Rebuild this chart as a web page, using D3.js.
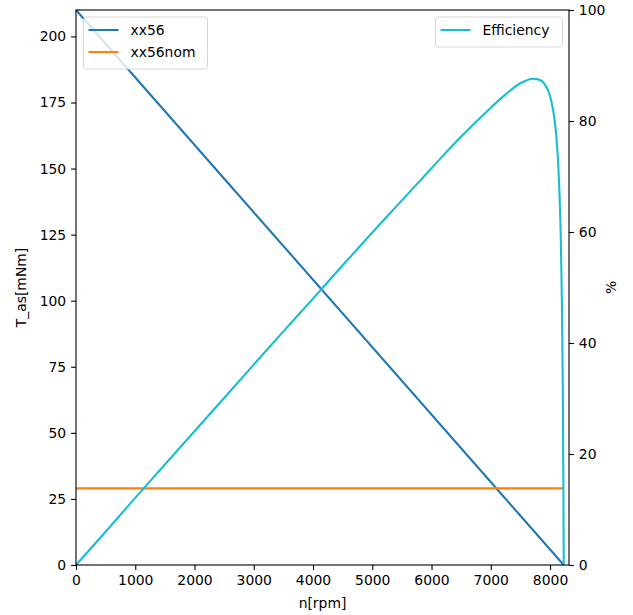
<!DOCTYPE html>
<html>
<head>
<meta charset="utf-8">
<script src="https://cdn.jsdelivr.net/npm/d3@7"></script>
<style>
  body { margin: 0; background: #fff; }
  text { font-family: "DejaVu Sans", sans-serif; }
</style>
</head>
<body>
<div id="chart"></div>
<script>
// speed axis values (rpm)
const torqueSpeed = [0, 8231];
const torque = [210, 0];              // xx56 torque line, mNm
const nominalSpeed = [0, 8231];
const nominalTorque = [29, 29];       // xx56nom

// efficiency curve
const effSpeed = [0, 500, 1000, 1500, 2000, 2500, 3000, 3500, 4000, 4500, 5000, 5500, 6000,
    6500, 7000, 7250, 7500, 7600, 7700, 7800, 7900, 8000, 8050, 8100, 8150, 8180, 8200, 8215, 8225, 8231];
const efficiency = [0, 6.0, 12.1, 18.1, 24.1, 30.1, 36.1, 42.1, 48.0, 54.0, 59.9, 65.7, 71.5,
    77.2, 82.4, 84.8, 86.8, 87.3, 87.6, 87.5, 86.8, 84.5, 82.1, 78.0, 69.6, 59.6, 47.5, 32.0, 15.0, 0];

const xTicks = [0, 1000, 2000, 3000, 4000, 5000, 6000, 7000, 8000];
const leftTicks = [0, 25, 50, 75, 100, 125, 150, 175, 200];
const rightTicks = [0, 20, 40, 60, 80, 100];

const W = 633, H = 615;
const margin = { top: 10, right: 64, bottom: 50, left: 76 };
const width = W - margin.left - margin.right;
const height = H - margin.top - margin.bottom;

const svg = d3.select("#chart")
    .append("svg")
    .attr("width", W)
    .attr("height", H)
    .append("g")
    .attr("transform", `translate(${margin.left},${margin.top})`);

const x = d3.scaleLinear().domain([0, 8320]).range([0, width]);
const yL = d3.scaleLinear().domain([0, 210]).range([height, 0]);
const yR = d3.scaleLinear().domain([0, 100]).range([height, 0]);

const fs = "13.9px";

// lines
const line = (xs, ys, yScale) => d3.line()
    .x((d, i) => x(xs[i]))
    .y((d, i) => yScale(ys[i]))(ys);

svg.append("path")
    .attr("d", line(torqueSpeed, torque, yL))
    .attr("fill", "none").attr("stroke", "#1f77b4").attr("stroke-width", 2.08);

svg.append("path")
    .attr("d", line(nominalSpeed, nominalTorque, yL))
    .attr("fill", "none").attr("stroke", "#ff7f0e").attr("stroke-width", 2.08);

svg.append("path")
    .attr("d", d3.line().curve(d3.curveMonotoneX)
        .x((d, i) => x(effSpeed[i]))
        .y(d => yR(d))(efficiency))
    .attr("fill", "none").attr("stroke", "#17becf").attr("stroke-width", 2.08);

// axes
const styleAxis = g => {
    g.select(".domain").remove();
    g.selectAll(".tick line").attr("stroke", "#000").attr("stroke-width", 1.1);
    g.selectAll(".tick text").style("font-size", fs).attr("fill", "#000");
};

svg.append("g")
    .attr("transform", `translate(0,${height})`)
    .call(d3.axisBottom(x).tickValues(xTicks).tickSize(4.9).tickPadding(4.9).tickFormat(d3.format("d")))
    .call(styleAxis);

svg.append("g")
    .call(d3.axisLeft(yL).tickValues(leftTicks).tickSize(4.9).tickPadding(4.9))
    .call(styleAxis);

svg.append("g")
    .attr("transform", `translate(${width},0)`)
    .call(d3.axisRight(yR).tickValues(rightTicks).tickSize(4.9).tickPadding(4.9))
    .call(styleAxis);

// frame
svg.append("rect")
    .attr("width", width).attr("height", height)
    .attr("fill", "none").attr("stroke", "#000").attr("stroke-width", 1.1);

// axis labels
svg.append("text")
    .attr("x", width / 2).attr("y", height + 43)
    .attr("text-anchor", "middle").style("font-size", fs)
    .text("n[rpm]");

svg.append("text")
    .attr("transform", `translate(${-50},${height / 2}) rotate(-90)`)
    .attr("text-anchor", "middle").style("font-size", fs)
    .text("T_as[mNm]");

svg.append("text")
    .attr("transform", `translate(${width + 47},${height / 2}) rotate(-90)`)
    .attr("text-anchor", "middle").style("font-size", fs)
    .text("%");

// legends
function legend(x0, y0, w, items) {
    const g = svg.append("g").attr("transform", `translate(${x0},${y0})`);
    g.append("rect")
        .attr("width", w).attr("height", 8 + items.length * 22)
        .attr("rx", 3)
        .attr("fill", "#fff").attr("fill-opacity", 0.8)
        .attr("stroke", "#d6d6d6").attr("stroke-width", 1);
    items.forEach((it, i) => {
        const yy = 13 + i * 22;
        g.append("line")
            .attr("x1", 5).attr("x2", 35).attr("y1", yy).attr("y2", yy)
            .attr("stroke", it.color).attr("stroke-width", 2.08);
        g.append("text")
            .attr("x", 47).attr("y", yy).attr("dy", "0.35em")
            .style("font-size", fs)
            .text(it.label);
    });
}

legend(7.5, 7, 124, [
    { label: "xx56", color: "#1f77b4" },
    { label: "xx56nom", color: "#ff7f0e" }
]);
legend(359.5, 7, 127, [
    { label: "Efficiency", color: "#17becf" }
]);
</script>
</body>
</html>
